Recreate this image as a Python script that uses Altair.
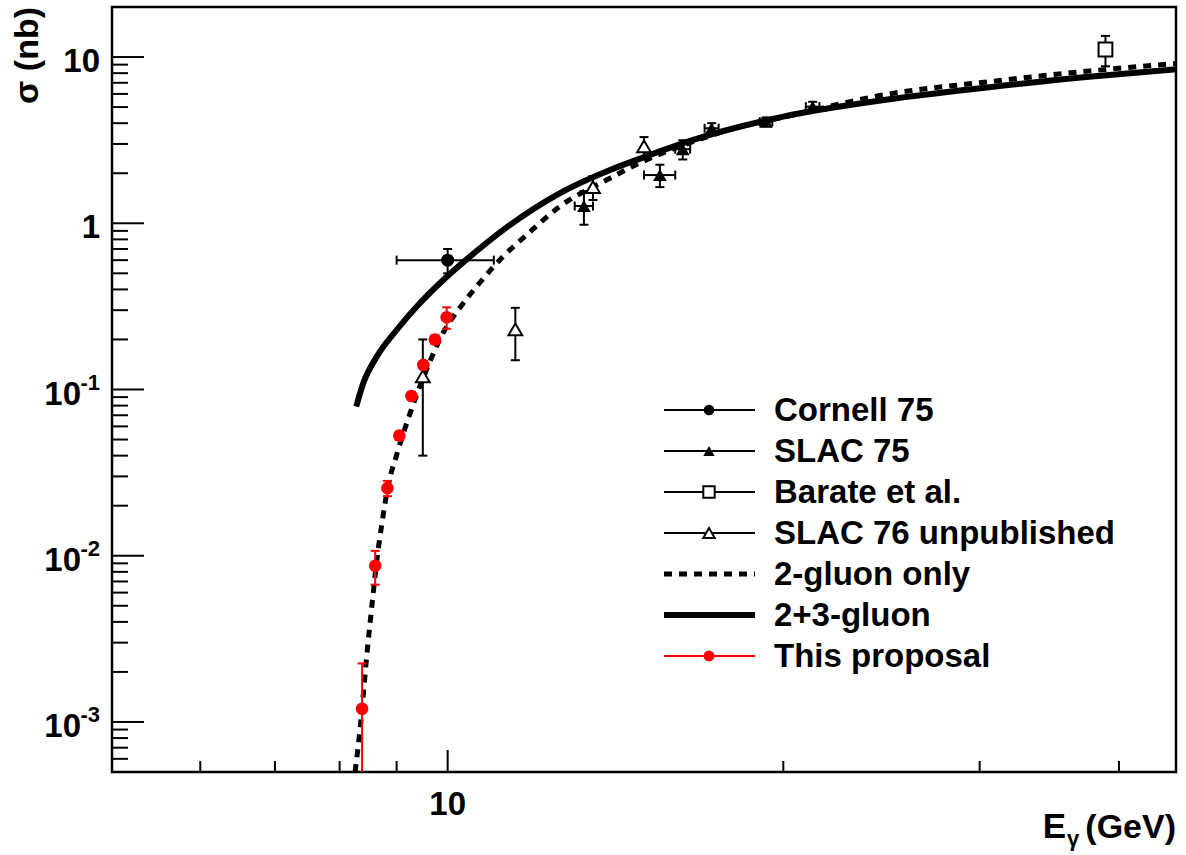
import altair as alt
import pandas as pd

# ---------------- measurements ----------------
cornell_e = [10.0]
cornell_sigma = [0.60]
cornell_sigma_err = [0.10]
cornell_e_err = [1.0]

slac75_e = [13.25, 15.5, 16.25, 17.25, 19.3, 21.25]
slac75_sigma = [1.27, 1.95, 2.79, 3.73, 4.08, 5.03]
slac75_sigma_err = [0.29, 0.30, 0.37, 0.27, 0.25, 0.35]
slac75_e_err = [0.25, 0.5, 0.25, 0.25, 0.25, 0.3]

barate_e = [38.9]
barate_sigma = [11.1]
barate_sigma_err = [2.3]

slac76_e = [9.5, 11.5, 13.5, 15.0]
slac76_sigma = [0.12, 0.23, 1.65, 2.9]
slac76_sigma_err = [0.08, 0.08, 0.27, 0.4]

proposal_e = [8.38, 8.61, 8.83, 9.05, 9.28, 9.51, 9.74, 9.98]
proposal_sigma = [0.0012, 0.0087, 0.0255, 0.0528, 0.0914, 0.1405, 0.200, 0.272]
proposal_sigma_err = [0.00105, 0.002, 0.0027, 0.003, 0.005, 0.008, 0.012, 0.04]

# ---------------- model curves ----------------
two_gluon_e = [8.26, 8.35, 8.46, 8.55, 8.64, 8.74, 8.84, 9.0, 9.21, 9.57, 9.94,
               10.29, 10.72, 11.21, 11.77, 12.6, 13.98, 14.96, 16.5, 18.0, 20.0,
               24.9, 30.6, 37.6, 45.0]
two_gluon_sigma = [5.0e-4, 9.4e-4, 2.47e-3, 4.94e-3, 9.44e-3, 0.0164, 0.026, 0.0404,
                   0.0656, 0.131, 0.228, 0.32, 0.45, 0.63, 0.85, 1.258, 1.865, 2.35,
                   3.05, 3.7, 4.35, 6.0, 7.11, 8.24, 9.15]

three_gluon_e = [8.28, 8.40, 8.64, 9.0, 9.44, 9.91, 10.47, 11.21, 12.6, 14.0, 15.0,
                 16.5, 20.0, 24.9, 30.6, 37.6, 45.0]
three_gluon_sigma = [0.079, 0.109, 0.158, 0.228, 0.33, 0.456, 0.63, 0.91, 1.515, 2.1,
                     2.5, 3.13, 4.38, 5.57, 6.58, 7.62, 8.45]

# ---------------- axis ticks ----------------
x_major = [10]
x_minor = [6, 7, 8, 9, 20, 30, 40]
y_major = [0.001, 0.01, 0.1, 1, 10]
y_minor = [m * 10.0 ** p for p in range(-4, 2) for m in range(2, 10)
           if 5e-4 <= m * 10.0 ** p <= 20]
y_label_value = [10, 1, 0.1, 0.01, 0.001]
y_label_base = ["10", "1", "10", "10", "10"]
y_label_exp = ["", "", "-1", "-2", "-3"]

legend_labels = ["Cornell 75", "SLAC 75", "Barate et al.", "SLAC 76 unpublished",
                 "2-gluon only", "2+3-gluon", "This proposal"]

W, H = 1064, 765
FONT = "Liberation Sans"
xs = alt.Scale(type="log", domain=[5, 45], nice=False)
ys = alt.Scale(type="log", domain=[5e-4, 20], nice=False)


def X(f):
    return alt.X(f"{f}:Q", scale=xs, axis=None)


def Y(f):
    return alt.Y(f"{f}:Q", scale=ys, axis=None)


def frame(e, s, se, ee=None):
    d = pd.DataFrame({"e": e, "s": s, "se": se})
    d["lo"] = d["s"] - d["se"]
    d["hi"] = d["s"] + d["se"]
    if ee is not None:
        d["ee"] = ee
        d["elo"] = d["e"] - d["ee"]
        d["ehi"] = d["e"] + d["ee"]
    return d


def error_layers(d, color="black", horizontal=False):
    out = []
    out.append(alt.Chart(d).mark_rule(color=color, strokeWidth=2, clip=True).encode(
        x=X("e"), y=Y("lo"), y2="hi"))
    caps = pd.concat([d[["e", "lo"]].rename(columns={"lo": "v"}),
                      d[["e", "hi"]].rename(columns={"hi": "v"})])
    caps = caps[caps["v"] >= 5e-4]
    out.append(alt.Chart(caps).mark_point(shape="M-1,0H1", size=81, filled=False,
                                          color=color, strokeWidth=2, opacity=1,
                                          clip=True).encode(x=X("e"), y=Y("v")))
    if horizontal:
        out.append(alt.Chart(d).mark_rule(color=color, strokeWidth=2).encode(
            x=X("elo"), x2="ehi", y=Y("s")))
        hc = pd.concat([d[["elo", "s"]].rename(columns={"elo": "u"}),
                        d[["ehi", "s"]].rename(columns={"ehi": "u"})])
        out.append(alt.Chart(hc).mark_point(shape="M0,-1V1", size=81, filled=False,
                                            color=color, strokeWidth=2, opacity=1).encode(
            x=X("u"), y=Y("s")))
    return out


cornell = frame(cornell_e, cornell_sigma, cornell_sigma_err, cornell_e_err)
slac75 = frame(slac75_e, slac75_sigma, slac75_sigma_err, slac75_e_err)
barate = frame(barate_e, barate_sigma, barate_sigma_err)
slac76 = frame(slac76_e, slac76_sigma, slac76_sigma_err)
proposal = frame(proposal_e, proposal_sigma, proposal_sigma_err)

layers = []

# model curves
layers.append(alt.Chart(pd.DataFrame({"e": three_gluon_e, "s": three_gluon_sigma}))
              .mark_line(color="black", strokeWidth=6, interpolate="monotone", clip=True)
              .encode(x=X("e"), y=Y("s")))
layers.append(alt.Chart(pd.DataFrame({"e": two_gluon_e, "s": two_gluon_sigma}))
              .mark_line(color="black", strokeWidth=5, strokeDash=[8, 7],
                         interpolate="monotone", clip=True)
              .encode(x=X("e"), y=Y("s")))

# error bars
layers += error_layers(cornell, horizontal=True)
layers += error_layers(slac75, horizontal=True)
layers += error_layers(barate)
layers += error_layers(slac76)
layers += error_layers(proposal, color="red")


def markers(d, shape, filled, color, size):
    return alt.Chart(d).mark_point(shape=shape, filled=filled, color=color, size=size,
                                   opacity=1, strokeWidth=2,
                                   fill=color if filled else "white").encode(
        x=X("e"), y=Y("s"))


layers.append(markers(cornell, "circle", True, "black", 170))
layers.append(markers(slac75, "triangle-up", True, "black", 190))
layers.append(markers(barate, "square", False, "black", 190))
layers.append(markers(slac76, "triangle-up", False, "black", 190))
layers.append(markers(proposal, "circle", True, "red", 160))

# inward tick marks
layers.append(alt.Chart(pd.DataFrame({"t": x_major})).mark_rule(color="black", strokeWidth=2)
              .encode(x=X("t"), y=alt.value(H), y2=alt.value(H - 22)))
layers.append(alt.Chart(pd.DataFrame({"t": x_minor})).mark_rule(color="black", strokeWidth=2)
              .encode(x=X("t"), y=alt.value(H), y2=alt.value(H - 11)))
layers.append(alt.Chart(pd.DataFrame({"t": y_major})).mark_rule(color="black", strokeWidth=2)
              .encode(y=Y("t"), x=alt.value(0), x2=alt.value(32)))
layers.append(alt.Chart(pd.DataFrame({"t": y_minor})).mark_rule(color="black", strokeWidth=2)
              .encode(y=Y("t"), x=alt.value(0), x2=alt.value(16)))

# tick labels
lab = pd.DataFrame({"v": y_label_value, "base": y_label_base, "exp": y_label_exp})
txt = dict(font=FONT, fontWeight="bold", color="black")
layers.append(alt.Chart(lab[lab["exp"] == ""]).mark_text(
    align="right", baseline="alphabetic", dy=15, fontSize=33, **txt).encode(
    y=Y("v"), x=alt.value(-12), text="base:N"))
layers.append(alt.Chart(lab[lab["exp"] != ""]).mark_text(
    align="right", baseline="alphabetic", dy=15, fontSize=33, **txt).encode(
    y=Y("v"), x=alt.value(-31), text="base:N"))
layers.append(alt.Chart(lab[lab["exp"] != ""]).mark_text(
    align="right", baseline="alphabetic", dy=0, fontSize=22, **txt).encode(
    y=Y("v"), x=alt.value(-12), text="exp:N"))
layers.append(alt.Chart(pd.DataFrame({"v": x_major, "t": ["10"]})).mark_text(
    align="center", baseline="alphabetic", fontSize=33, **txt).encode(
    x=X("v"), y=alt.value(808), text="t:N"))

# axis titles
one = alt.Data(values=[{}])
layers.append(alt.Chart(one).mark_text(text="σ (nb)", angle=270, align="right",
                                       baseline="alphabetic", fontSize=34, **txt)
              .encode(x=alt.value(-74), y=alt.value(0)))
layers.append(alt.Chart(one).mark_text(text="E", align="right", baseline="alphabetic",
                                       fontSize=35, **txt)
              .encode(x=alt.value(954), y=alt.value(831)))
layers.append(alt.Chart(one).mark_text(text="γ", align="left", baseline="alphabetic",
                                       fontSize=22, **txt)
              .encode(x=alt.value(955), y=alt.value(839)))
layers.append(alt.Chart(one).mark_text(text="(GeV)", align="right", baseline="alphabetic",
                                       fontSize=34, **txt)
              .encode(x=alt.value(W), y=alt.value(831)))

# legend
LX0, LX1, LXM, LT, LY0, LDY = 552, 643, 597, 662, 403, 41
legend_style = [
    dict(line=dict(color="black", strokeWidth=2), mark=("circle", True, "black", 115)),
    dict(line=dict(color="black", strokeWidth=2), mark=("triangle-up", True, "black", 130)),
    dict(line=dict(color="black", strokeWidth=2), mark=("square", False, "black", 130)),
    dict(line=dict(color="black", strokeWidth=2), mark=("triangle-up", False, "black", 130)),
    dict(line=dict(color="black", strokeWidth=5, strokeDash=[8, 7]), mark=None),
    dict(line=dict(color="black", strokeWidth=6), mark=None),
    dict(line=dict(color="red", strokeWidth=2), mark=("circle", True, "red", 120)),
]
for i, (label, st) in enumerate(zip(legend_labels, legend_style)):
    yy = LY0 + LDY * i
    layers.append(alt.Chart(one).mark_rule(**st["line"]).encode(
        x=alt.value(LX0), x2=alt.value(LX1), y=alt.value(yy)))
    if st["mark"]:
        shp, filled, col, sz = st["mark"]
        layers.append(alt.Chart(one).mark_point(shape=shp, filled=filled, color=col, size=sz,
                                                opacity=1, strokeWidth=2,
                                                fill=col if filled else "white")
                      .encode(x=alt.value(LXM), y=alt.value(yy)))
    layers.append(alt.Chart(one).mark_text(text=label, align="left", baseline="middle",
                                           fontSize=33, **txt)
                  .encode(x=alt.value(LT), y=alt.value(yy + 1)))

chart = alt.layer(*layers).properties(
    width=W, height=H,
    autosize=alt.AutoSizeParams(type="none"),
    padding={"left": 112, "top": 7, "right": 10, "bottom": 83},
    background="white",
).configure_view(stroke="black", strokeWidth=2.5)

chart.save("out.html", embed_options={"renderer": "svg", "actions": False})
